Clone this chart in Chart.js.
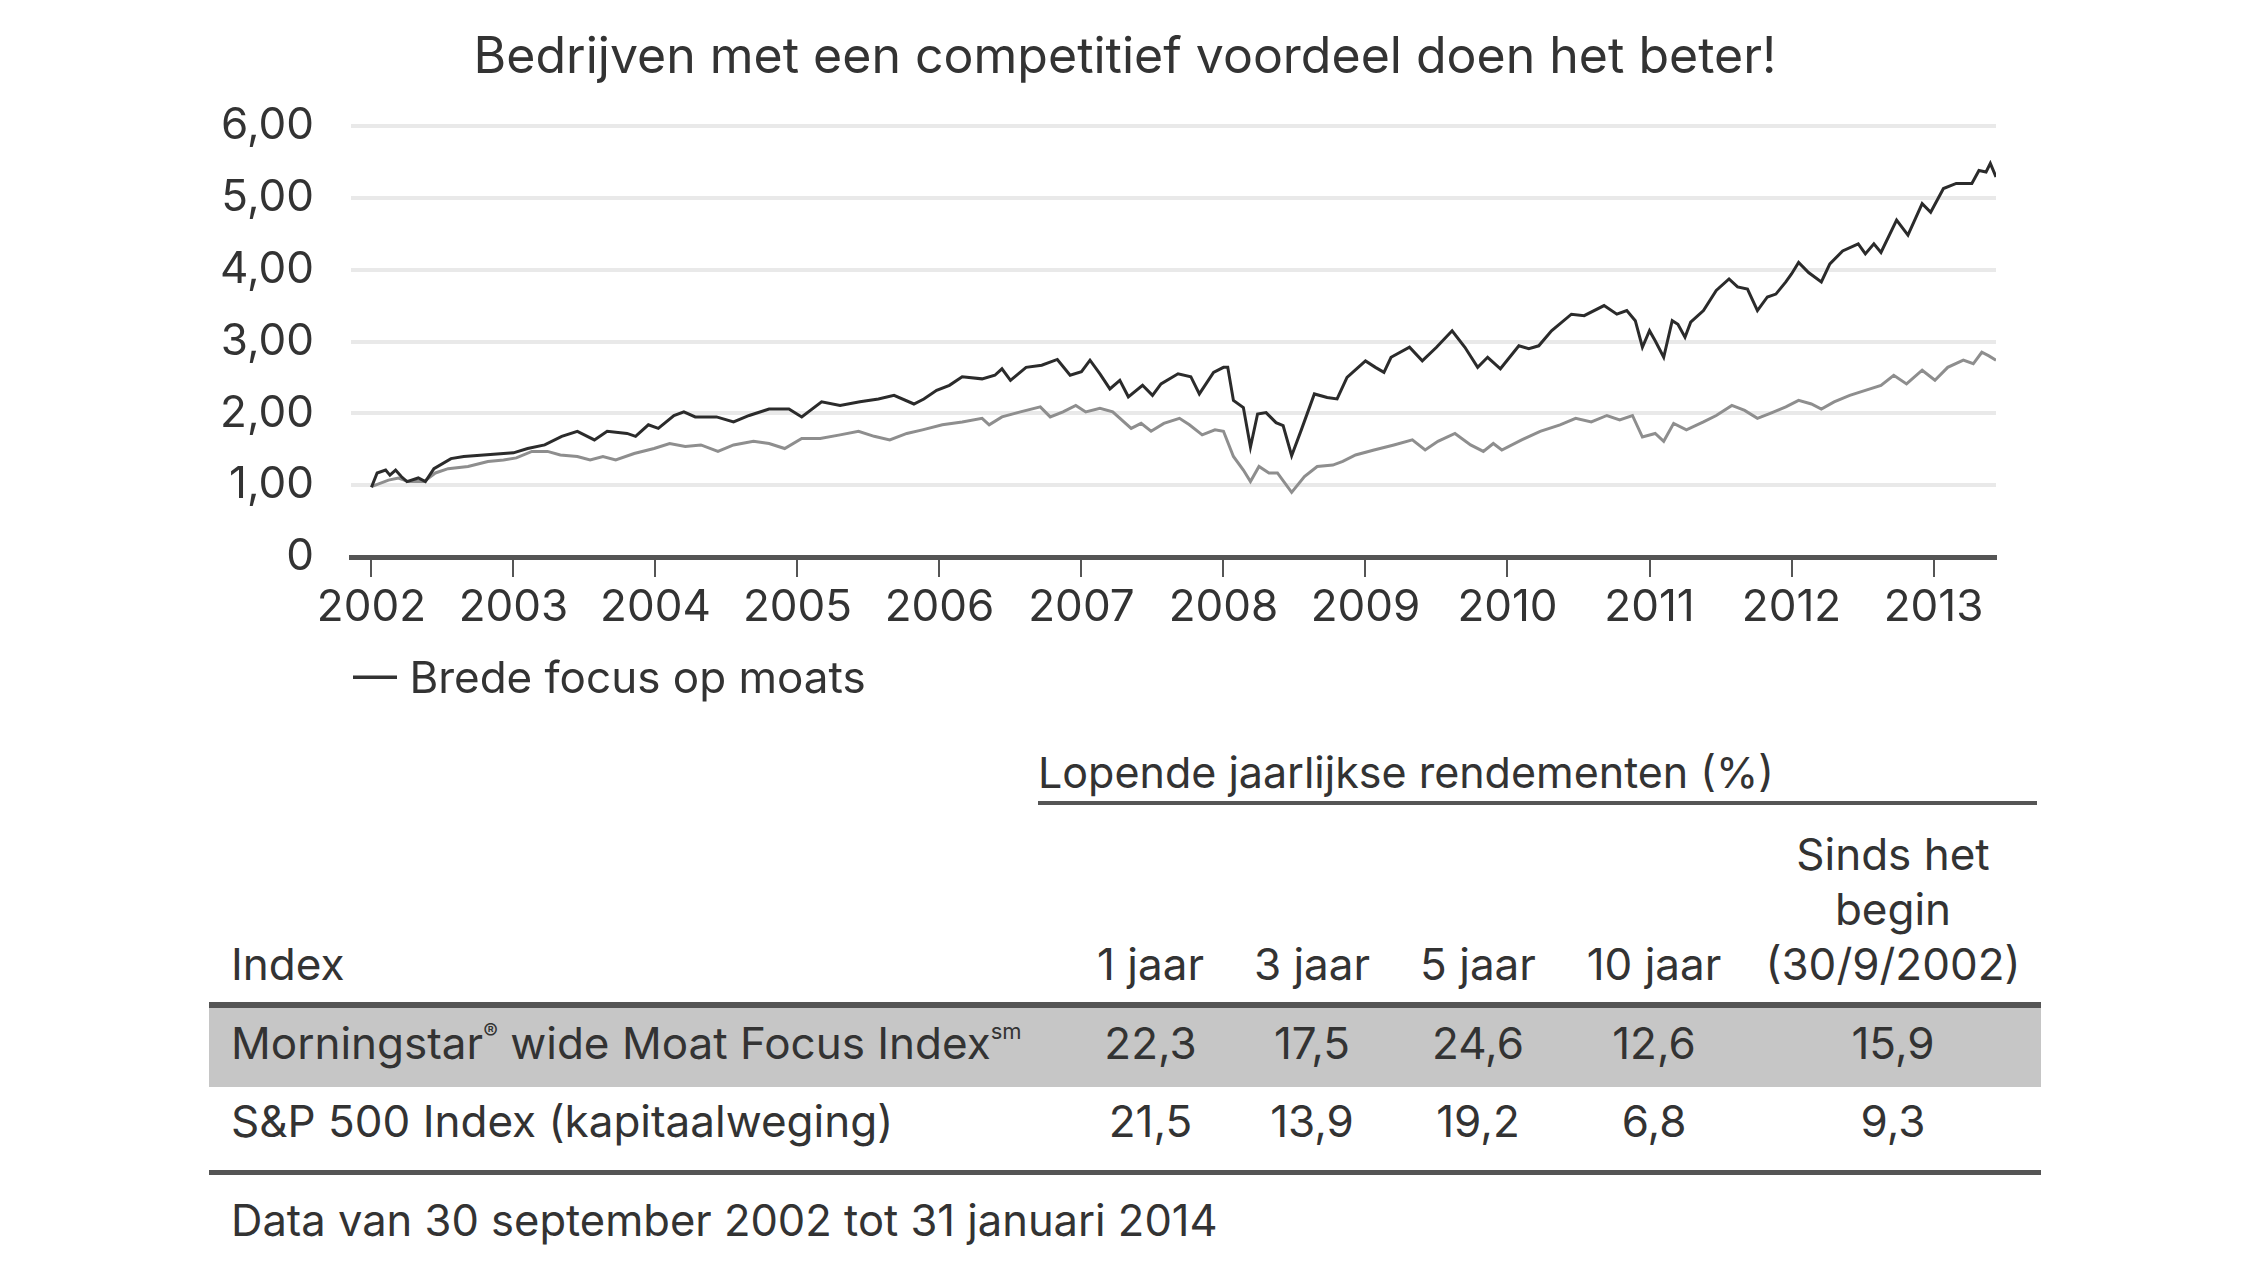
<!DOCTYPE html>
<html lang="nl">
<head>
<meta charset="utf-8">
<title>Bedrijven met een competitief voordeel doen het beter!</title>
<script src="https://cdn.jsdelivr.net/npm/chart.js@4.4.1/dist/chart.umd.min.js"></script>
<style>
    html, body { margin: 0; padding: 0; background: #fff; }
    body {
        width: 2250px;
        height: 1288px;
        position: relative;
        overflow: hidden;
        font-family: Inter, "Liberation Sans", sans-serif;
        color: #333;
    }
    #chart-wrap { position: absolute; left: 0; top: 0; width: 2250px; height: 700px; }
    .legend { position: absolute; left: 353px; top: 650px; font-size: 44px; line-height: 55px; }
    .returns-title {
        position: absolute; left: 1038px; top: 749px; width: 999px; height: 52px;
        line-height: 46px; font-size: 43px; border-bottom: 4px solid #555;
    }
    table.returns {
        position: absolute; left: 209px; top: 827px; width: 1832px;
        border-collapse: separate; border-spacing: 0; table-layout: fixed;
        font-size: 44px; color: #333;
    }
    table.returns th, table.returns td { padding: 0; line-height: 55px; font-weight: normal; text-align: center; }
    table.returns th:first-child, table.returns td:first-child { text-align: left; padding-left: 22px; }
    table.returns thead th { vertical-align: bottom; padding-bottom: 10px; border-bottom: 6px solid #555; }
    table.returns tr.moat td { background: #c6c6c6; padding-top: 8px; padding-bottom: 16px; }
    table.returns tr.sp td { padding-top: 7px; padding-bottom: 21px; border-bottom: 5px solid #555; }
    sup { font-size: 0.5em; line-height: 0; vertical-align: 0.9em; }
    .footer { position: absolute; left: 231px; top: 1193px; font-size: 43.5px; line-height: 55px; }
</style>
</head>
<body>
<div id="chart-wrap"><canvas id="moats"></canvas></div>
<div class="legend">— Brede focus op moats</div>
<div class="returns-title">Lopende jaarlijkse rendementen (%)</div>
<table class="returns" id="returns"></table>
<div class="footer">Data van 30 september 2002 tot 31 januari 2014</div>

<script>
// Brede focus op moats (donker)
const moatYears = [
    2002.00, 2002.04, 2002.10, 2002.13, 2002.17, 2002.21, 2002.25, 2002.33, 2002.38, 2002.44,
    2002.56, 2002.65, 2003.00, 2003.10, 2003.22, 2003.34, 2003.45, 2003.52, 2003.57, 2003.66,
    2003.80, 2003.86, 2003.95, 2004.02, 2004.13, 2004.20, 2004.28, 2004.43, 2004.55, 2004.66,
    2004.80, 2004.94, 2005.03, 2005.17, 2005.30, 2005.44, 2005.57, 2005.68, 2005.82, 2005.89,
    2005.98, 2006.07, 2006.16, 2006.30, 2006.39, 2006.44, 2006.50, 2006.61, 2006.72, 2006.83,
    2006.92, 2007.00, 2007.06, 2007.13, 2007.20, 2007.27, 2007.33, 2007.43, 2007.50, 2007.56,
    2007.68, 2007.77, 2007.83, 2007.93, 2008.00, 2008.03, 2008.07, 2008.14, 2008.19, 2008.24,
    2008.30, 2008.37, 2008.42, 2008.48, 2008.55, 2008.64, 2008.73, 2008.80, 2008.87, 2009.00,
    2009.07, 2009.13, 2009.18, 2009.31, 2009.40, 2009.50, 2009.61, 2009.70, 2009.79, 2009.86,
    2009.95, 2010.08, 2010.15, 2010.22, 2010.31, 2010.45, 2010.54, 2010.68, 2010.77, 2010.84,
    2010.90, 2010.95, 2011.00, 2011.04, 2011.10, 2011.16, 2011.20, 2011.25, 2011.29, 2011.38,
    2011.47, 2011.56, 2011.62, 2011.69, 2011.76, 2011.83, 2011.89, 2011.96, 2012.00, 2012.05,
    2012.12, 2012.21, 2012.27, 2012.36, 2012.47, 2012.52, 2012.58, 2012.63, 2012.74, 2012.82,
    2012.92, 2012.98, 2013.07, 2013.16, 2013.27, 2013.32, 2013.37, 2013.40, 2013.44
];
const moatValues = [
    0.97, 1.17, 1.21, 1.14, 1.21, 1.12, 1.05, 1.10, 1.05, 1.23,
    1.37, 1.40, 1.45, 1.51, 1.56, 1.68, 1.75, 1.68, 1.63, 1.75,
    1.72, 1.68, 1.84, 1.79, 1.97, 2.02, 1.95, 1.95, 1.88, 1.97,
    2.06, 2.06, 1.95, 2.16, 2.11, 2.16, 2.20, 2.25, 2.13, 2.20,
    2.32, 2.39, 2.51, 2.48, 2.53, 2.62, 2.46, 2.64, 2.67, 2.75,
    2.53, 2.58, 2.74, 2.55, 2.34, 2.46, 2.23, 2.39, 2.25, 2.41,
    2.55, 2.51, 2.27, 2.57, 2.64, 2.64, 2.18, 2.08, 1.53, 1.99,
    2.01, 1.87, 1.83, 1.41, 1.78, 2.27, 2.22, 2.20, 2.50, 2.73,
    2.64, 2.57, 2.78, 2.92, 2.73, 2.92, 3.15, 2.92, 2.64, 2.78,
    2.62, 2.94, 2.90, 2.94, 3.15, 3.38, 3.36, 3.50, 3.38, 3.43,
    3.29, 2.92, 3.15, 3.01, 2.78, 3.29, 3.24, 3.06, 3.27, 3.43,
    3.71, 3.87, 3.76, 3.73, 3.43, 3.62, 3.66, 3.83, 3.94, 4.10,
    3.96, 3.83, 4.08, 4.26, 4.36, 4.22, 4.36, 4.24, 4.69, 4.48,
    4.92, 4.80, 5.13, 5.20, 5.20, 5.38, 5.36, 5.48, 5.29
];

// S&P 500 (grijs)
const spYears = [
    2002.00, 2002.12, 2002.19, 2002.26, 2002.37, 2002.45, 2002.54, 2002.68, 2002.82, 2002.93,
    2003.02, 2003.13, 2003.24, 2003.33, 2003.45, 2003.54, 2003.63, 2003.72, 2003.85, 2003.99,
    2004.10, 2004.21, 2004.32, 2004.44, 2004.55, 2004.69, 2004.80, 2004.91, 2005.03, 2005.16,
    2005.30, 2005.43, 2005.54, 2005.65, 2005.77, 2005.88, 2006.02, 2006.16, 2006.30, 2006.35,
    2006.44, 2006.57, 2006.71, 2006.78, 2006.87, 2006.96, 2007.03, 2007.13, 2007.22, 2007.35,
    2007.42, 2007.49, 2007.58, 2007.69, 2007.76, 2007.85, 2007.94, 2008.00, 2008.07, 2008.14,
    2008.19, 2008.25, 2008.32, 2008.38, 2008.48, 2008.57, 2008.66, 2008.77, 2008.84, 2008.93,
    2009.06, 2009.20, 2009.33, 2009.42, 2009.51, 2009.63, 2009.74, 2009.83, 2009.90, 2009.96,
    2010.10, 2010.23, 2010.37, 2010.48, 2010.59, 2010.70, 2010.79, 2010.88, 2010.95, 2011.04,
    2011.10, 2011.17, 2011.26, 2011.38, 2011.47, 2011.58, 2011.67, 2011.76, 2011.85, 2011.96,
    2012.05, 2012.14, 2012.21, 2012.30, 2012.41, 2012.52, 2012.63, 2012.72, 2012.81, 2012.92,
    2013.01, 2013.10, 2013.21, 2013.28, 2013.34, 2013.39, 2013.44
];
const spValues = [
    0.98, 1.07, 1.10, 1.05, 1.05, 1.17, 1.23, 1.26, 1.33, 1.35,
    1.38, 1.47, 1.47, 1.42, 1.40, 1.35, 1.40, 1.35, 1.44, 1.51,
    1.58, 1.54, 1.56, 1.47, 1.56, 1.61, 1.58, 1.51, 1.65, 1.65,
    1.70, 1.75, 1.68, 1.63, 1.72, 1.77, 1.84, 1.88, 1.93, 1.84,
    1.95, 2.02, 2.09, 1.95, 2.02, 2.11, 2.02, 2.07, 2.02, 1.79,
    1.86, 1.75, 1.86, 1.93, 1.84, 1.70, 1.77, 1.75, 1.40, 1.21,
    1.05, 1.26, 1.17, 1.17, 0.90, 1.12, 1.26, 1.28, 1.33, 1.42,
    1.49, 1.56, 1.63, 1.49, 1.61, 1.72, 1.56, 1.47, 1.58, 1.49,
    1.63, 1.75, 1.84, 1.93, 1.88, 1.97, 1.91, 1.97, 1.67, 1.72,
    1.61, 1.86, 1.77, 1.88, 1.97, 2.11, 2.04, 1.93, 2.00, 2.09,
    2.18, 2.13, 2.06, 2.16, 2.25, 2.32, 2.39, 2.53, 2.41, 2.60,
    2.46, 2.64, 2.74, 2.69, 2.85, 2.80, 2.74
];

// Assen
const yearTicks = [2002, 2003, 2004, 2005, 2006, 2007, 2008, 2009, 2010, 2011, 2012, 2013];
const valueTicks = [0, 1, 2, 3, 4, 5, 6];

// Tabel: lopende jaarlijkse rendementen (%)
const periodLabels = ['1 jaar', '3 jaar', '5 jaar', '10 jaar', 'Sinds het<br>begin<br>(30/9/2002)'];
const moatReturns = [22.3, 17.5, 24.6, 12.6, 15.9];
const spReturns = [21.5, 13.9, 19.2, 6.8, 9.3];

const TEXT = '#333333';
const FONT = 'Inter, "Liberation Sans", sans-serif';

// Decimal comma, like the source
const comma = (v, digits) => v.toFixed(digits).replace('.', ',');

function toPoints(xs, ys) {
    return xs.map((x, i) => ({ x: x, y: ys[i] }));
}

function buildTable() {
    const table = document.getElementById('returns');
    const widths = [861, 161, 162, 170, 182, 296];

    let html = '<colgroup>' + widths.map(w => `<col style="width:${w}px">`).join('') + '</colgroup>';
    html += '<thead><tr><th>Index</th>' + periodLabels.map(l => `<th>${l}</th>`).join('') + '</tr></thead>';
    html += '<tbody>';
    html += '<tr class="moat"><td>Morningstar<sup>®</sup> wide Moat Focus Index<sup>sm</sup></td>'
        + moatReturns.map(v => `<td>${comma(v, 1)}</td>`).join('') + '</tr>';
    html += '<tr class="sp"><td>S&amp;P 500 Index (kapitaalweging)</td>'
        + spReturns.map(v => `<td>${comma(v, 1)}</td>`).join('') + '</tr>';
    html += '</tbody>';

    table.innerHTML = html;
}

function buildChart() {
    const el = document.getElementById('moats');

    new Chart(el, {
        type: 'line',
        data: {
            datasets: [
                {
                    label: 'Brede focus op moats',
                    data: toPoints(moatYears, moatValues),
                    borderColor: '#2b2b2b',
                    borderWidth: 3,
                    pointRadius: 0,
                    tension: 0
                },
                {
                    label: 'S&P 500',
                    data: toPoints(spYears, spValues),
                    borderColor: '#8e8e8e',
                    borderWidth: 3,
                    pointRadius: 0,
                    tension: 0
                }
            ]
        },
        options: {
            responsive: true,
            maintainAspectRatio: false,
            animation: false,
            events: [],
            layout: {
                padding: 0
            },
            plugins: {
                legend: { display: false },
                tooltip: { enabled: false },
                title: {
                    display: true,
                    text: 'Bedrijven met een competitief voordeel doen het beter!',
                    color: TEXT,
                    font: { family: FONT, size: 50, weight: 'normal', lineHeight: 1.2 },
                    padding: { top: 28, bottom: 38 }
                }
            },
            scales: {
                x: {
                    type: 'linear',
                    min: 2001.856,
                    max: 2013.44,
                    afterBuildTicks: scale => {
                        scale.ticks = yearTicks.map(v => ({ value: v }));
                    },
                    afterFit: scale => {
                        scale.height = 143;
                    },
                    grid: {
                        drawOnChartArea: false,
                        drawTicks: true,
                        tickLength: 20,
                        color: '#555',
                        lineWidth: 2
                    },
                    border: { display: true, color: '#555', width: 5 },
                    ticks: {
                        autoSkip: false,
                        maxRotation: 0,
                        padding: 4,
                        color: TEXT,
                        font: { family: FONT, size: 44 },
                        callback: v => String(v)
                    }
                },
                y: {
                    min: 0,
                    max: 6,
                    afterBuildTicks: scale => {
                        scale.ticks = valueTicks.map(v => ({ value: v }));
                    },
                    afterFit: scale => {
                        scale.width = 351;
                    },
                    grid: {
                        drawTicks: false,
                        color: '#e9e9e9',
                        lineWidth: 4
                    },
                    border: { display: false },
                    ticks: {
                        padding: 37,
                        color: TEXT,
                        font: { family: FONT, size: 44 },
                        callback: v => v === 0 ? '0' : comma(v, 2)
                    }
                },
                // empty right margin, keeps the title centred on the page
                margin: {
                    type: 'linear',
                    position: 'right',
                    min: 0,
                    max: 1,
                    afterFit: scale => {
                        scale.width = 254;
                    },
                    grid: { display: false },
                    border: { display: false },
                    ticks: { display: false }
                }
            }
        }
    });
}

buildTable();
buildChart();
</script>
</body>
</html>
